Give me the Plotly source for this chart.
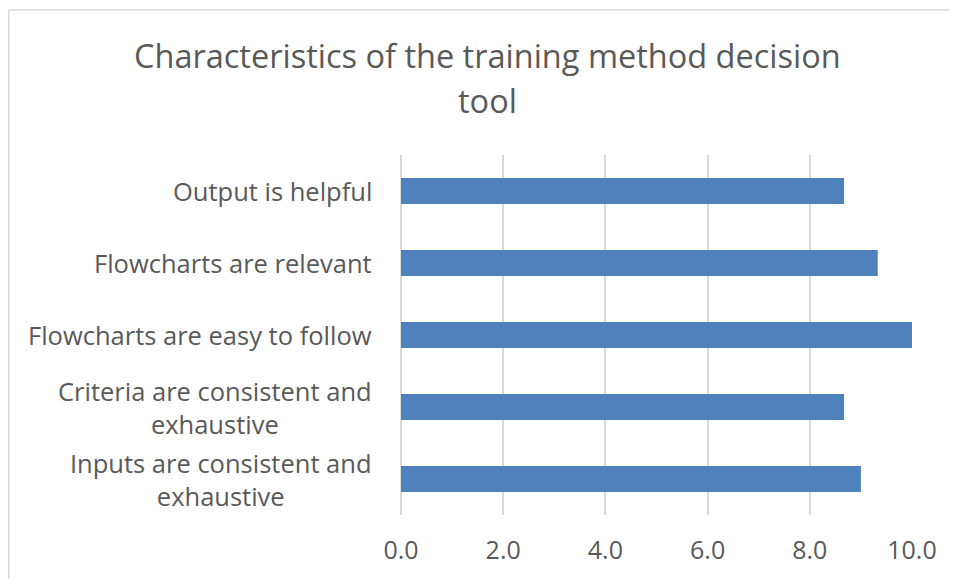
import plotly.graph_objects as go

categories = [
    "Output is helpful",
    "Flowcharts are relevant",
    "Flowcharts are easy to follow",
    "Criteria are consistent and<br>exhaustive",
    "Inputs are consistent and<br>exhaustive",
]
values = [8.67, 9.33, 10.0, 8.67, 9.0]
x_ticks = [0, 2, 4, 6, 8, 10]
x_tick_labels = ["0.0", "2.0", "4.0", "6.0", "8.0", "10.0"]
title_lines = ["Characteristics of the training method decision", "tool"]

# page has an 8px body margin; figure coordinates are offset by it
OFF = 8
W, H = 957 - OFF, 579 - OFF
ML, MT = 401 - OFF, 155 - OFF
PW, PH = 511, 360
MR = W - ML - PW
MB = H - MT - PH
TEXT = "#595959"
GRID = "#D9D9D9"
FONT = "Open Sans"


def py(fig_y):
    return 1 + (MT - fig_y) / PH


def px(fig_x):
    return (fig_x - ML) / PW


fig = go.Figure(go.Bar(
    x=values, y=categories, orientation="h",
    marker=dict(color="#4F81BD", line=dict(width=0)),
    hoverinfo="x+y",
))

annotations = []
for c in categories:
    annotations.append(dict(
        x=0, y=c, xref="x", yref="y", text=c, showarrow=False,
        xanchor="right", yanchor="middle", align="center", xshift=-27,
        font=dict(family=FONT, size=25.5, color=TEXT),
    ))

title_y = [55 - OFF, 100 - OFF]
for t, ty in zip(title_lines, title_y):
    annotations.append(dict(
        x=px(487 - OFF), y=py(ty), xref="paper", yref="paper", text=t,
        showarrow=False, xanchor="center", yanchor="middle",
        font=dict(family=FONT, size=32.5, color=TEXT),
    ))

# chart frame (left and top edges visible in reference)
bx0 = px(0.8)
by1 = py(10 - OFF)
bx1 = px(W + 5)
by0 = py(H + 5)
shapes = [
    dict(type="line", xref="paper", yref="paper", x0=bx0, x1=bx0, y0=by0, y1=by1,
         line=dict(color=GRID, width=1.5)),
    dict(type="line", xref="paper", yref="paper", x0=bx0, x1=bx1, y0=by1, y1=by1,
         line=dict(color=GRID, width=1.5)),
]

fig.update_layout(
    width=W, height=H,
    margin=dict(l=ML, r=MR, t=MT, b=MB),
    paper_bgcolor="white", plot_bgcolor="white",
    showlegend=False,
    bargap=0.64,
    xaxis=dict(range=[0, 10], tickvals=x_ticks, ticktext=x_tick_labels,
               showgrid=True, gridcolor=GRID, gridwidth=1.8,
               zeroline=True, zerolinecolor=GRID, zerolinewidth=1.8,
               showline=False, ticks="", ticklabelstandoff=18,
               tickfont=dict(family=FONT, size=25, color=TEXT), fixedrange=True),
    yaxis=dict(autorange="reversed", showticklabels=False, showgrid=False,
               zeroline=False, showline=False, ticks="", fixedrange=True),
    annotations=annotations,
    shapes=shapes,
)

fig.write_html("out.html", config={"displayModeBar": False})
